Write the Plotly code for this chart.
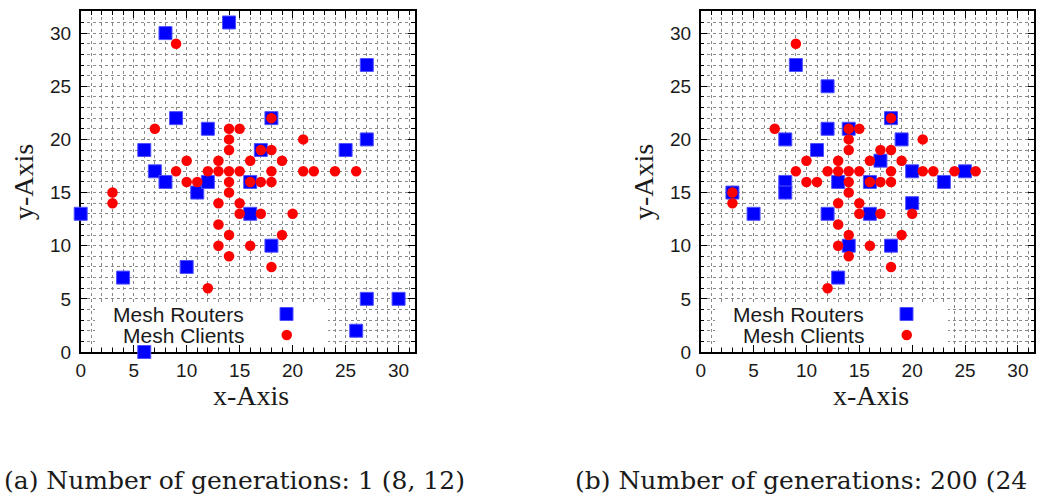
import plotly.graph_objects as go

# ---------------- data ----------------
clients_x = [9, 7, 14, 15, 18, 21, 14, 14, 17, 18, 10, 13, 16, 19, 9, 12, 13, 14, 15, 18, 21, 22, 24, 26,
             10, 11, 14, 16, 17, 18, 14, 3, 3, 13, 15, 15, 17, 20, 13, 14, 19, 13, 16, 14, 18, 12]
clients_y = [29, 21, 21, 21, 22, 20, 20, 19, 19, 19, 18, 18, 18, 18, 17, 17, 17, 17, 17, 17, 17, 17, 17, 17,
             16, 16, 16, 16, 16, 16, 15, 15, 14, 14, 14, 13, 13, 13, 12, 11, 11, 10, 10, 9, 8, 6]

routers_a_x = [8, 14, 9, 12, 6, 7, 8, 11, 12, 0, 10, 4, 6, 27, 18, 17, 25, 27, 16, 16, 18, 27, 30, 26]
routers_a_y = [30, 31, 22, 21, 19, 17, 16, 15, 16, 13, 8, 7, 0, 27, 22, 19, 19, 20, 16, 13, 10, 5, 5, 2]

routers_b_x = [18, 12, 14, 8, 19, 11, 17, 20, 25, 8, 8, 13, 16, 23, 20, 5, 12, 16, 14, 18, 13, 9, 12, 3]
routers_b_y = [22, 21, 21, 20, 20, 19, 18, 17, 17, 16, 15, 16, 16, 16, 14, 13, 13, 13, 10, 10, 7, 27, 25, 15]

captions = ["(a) Number of generations: 1 (8, 12)", "(b) Number of generations: 200 (24"]
legend_labels = ["Mesh Routers", "Mesh Clients"]
tick_vals = [0, 5, 10, 15, 20, 25, 30]

# ---------------- layout helpers ----------------
W, H = 1051, 494
def fx(px):
    return px / W
def fy(py):
    return 1 - py / H

frame_left = [80.7, 700.7]
frame_right = [415.0, 1034.3]
frame_top, frame_bottom = 11.0, 352.0

fig = go.Figure()

blue = "#0000ff"
red = "#ff0000"

for i, (rx, ry) in enumerate([(routers_a_x, routers_a_y), (routers_b_x, routers_b_y)]):
    xa = "x" if i == 0 else "x2"
    ya = "y" if i == 0 else "y2"
    fig.add_trace(go.Scatter(x=rx, y=ry, mode="markers", xaxis=xa, yaxis=ya,
                             marker=dict(symbol="square", size=13, color=blue,
                                         line=dict(width=1, color="#5050ff")),
                             cliponaxis=False, showlegend=False, hoverinfo="skip"))
    fig.add_trace(go.Scatter(x=clients_x, y=clients_y, mode="markers", xaxis=xa, yaxis=ya,
                             marker=dict(symbol="circle", size=10.5, color=red, line=dict(width=0)),
                             cliponaxis=False, showlegend=False, hoverinfo="skip"))

axis_common = dict(
    showline=True, linecolor="black", linewidth=1.5, mirror="allticks",
    ticks="inside", ticklen=7, tickcolor="black", tickwidth=1.2,
    tickvals=tick_vals, showgrid=True, gridcolor="#8a8a8a", griddash="dot", gridwidth=1,
    zeroline=False, layer="below traces", automargin=False,
    tickfont=dict(family="Liberation Sans", size=19, color="#1a1a1a"),
    minor=dict(dtick=1, tick0=0, ticks="inside", ticklen=4, tickcolor="black",
               showgrid=True, gridcolor="#8a8a8a", griddash="dot", gridwidth=1),
)

layout = dict(
    width=W, height=H, margin=dict(l=0, r=0, t=0, b=0, autoexpand=False),
    paper_bgcolor="white", plot_bgcolor="white", showlegend=False,
    xaxis=dict(domain=[fx(frame_left[0]), fx(frame_right[0])], range=[0, 31.55], anchor="y", **axis_common),
    yaxis=dict(domain=[fy(frame_bottom), fy(frame_top)], range=[0, 32.08], anchor="x", ticklabelstandoff=4, **axis_common),
    xaxis2=dict(domain=[fx(frame_left[1]), fx(frame_right[1])], range=[0, 31.55], anchor="y2", **axis_common),
    yaxis2=dict(domain=[fy(frame_bottom), fy(frame_top)], range=[0, 32.08], anchor="x2", ticklabelstandoff=4, **axis_common),
)
fig.update_layout(**layout)

shapes = []
annotations = []
for i in range(2):
    off = frame_left[i] - frame_left[0]
    # legend background box
    shapes.append(dict(type="rect", xref="paper", yref="paper",
                       x0=fx(95 + off), x1=fx(328 + off), y0=fy(345), y1=fy(302),
                       fillcolor="white", line=dict(width=0), layer="above"))
    # legend samples
    shapes.append(dict(type="rect", xref="paper", yref="paper",
                       x0=fx(280 + off), x1=fx(293 + off), y0=fy(320.5), y1=fy(307.5),
                       fillcolor=blue, line=dict(width=1, color="#5050ff"), layer="above"))
    shapes.append(dict(type="circle", xref="paper", yref="paper",
                       x0=fx(281.5 + off), x1=fx(292 + off), y0=fy(340.3), y1=fy(329.8),
                       fillcolor=red, line=dict(width=0), layer="above"))
    for j, lab in enumerate(legend_labels):
        annotations.append(dict(text=lab, xref="paper", yref="paper", x=fx(246 + off), y=fy(314 + 21 * j),
                                xanchor="right", yanchor="middle", showarrow=False,
                                font=dict(family="Liberation Sans", size=21, color="#1a1a1a")))
    # axis titles
    annotations.append(dict(text="x-Axis", xref="paper", yref="paper", x=fx(251 + off), y=fy(395),
                            xanchor="center", yanchor="middle", showarrow=False,
                            font=dict(family="Liberation Serif", size=28, color="#1a1a1a")))
    annotations.append(dict(text="y-Axis", xref="paper", yref="paper", x=fx(23 + off), y=fy(182),
                            xanchor="center", yanchor="middle", showarrow=False, textangle=-90,
                            font=dict(family="Liberation Serif", size=28, color="#1a1a1a")))

# captions at the bottom edge
annotations.append(dict(text=captions[0], xref="paper", yref="paper", x=fx(2), y=fy(480),
                        xanchor="left", yanchor="middle", showarrow=False,
                        font=dict(family="DejaVu Serif", size=25, color="#1a1a1a")))
annotations.append(dict(text=captions[1], xref="paper", yref="paper", x=fx(573), y=fy(480),
                        xanchor="left", yanchor="middle", showarrow=False,
                        font=dict(family="DejaVu Serif", size=25, color="#1a1a1a")))

fig.update_layout(shapes=shapes, annotations=annotations)
fig.write_html("out.html")
